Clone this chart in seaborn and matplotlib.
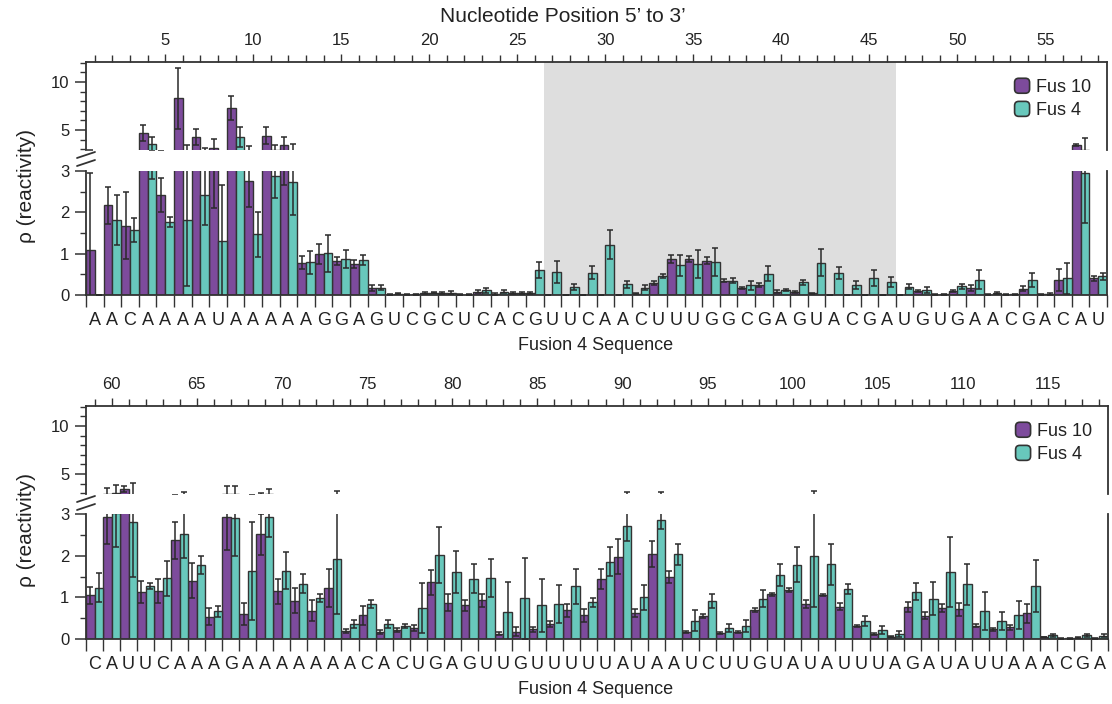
import numpy as np
import pandas as pd
import matplotlib
matplotlib.use("Agg")
import matplotlib.pyplot as plt
import seaborn as sns
from matplotlib.patches import Patch, FancyBboxPatch
from matplotlib.legend_handler import HandlerPatch
from matplotlib.lines import Line2D

# ---------------- data ----------------
pos_top = list(range(1, 59))
seq_top = list("AACAAAAUAAAAAGGAGUCGCUCACGUUCAACUUUGGCGAGUACGAUGUGAACGACAU")
fus10_top = [1.08, 2.17, 1.68, 4.70, 2.43, 8.30, 4.27, 3.10, 7.30, 2.75,
             4.40, 3.45, 0.78, 0.99, 0.83, 0.75, 0.17, 0.01, 0.01, 0.05,
             0.05, 0.01, 0.08, 0.03, 0.05, 0.05, 0.00, 0.00, 0.00, 0.00,
             0.00, 0.03, 0.29, 0.87, 0.87, 0.83, 0.35, 0.17, 0.24, 0.08,
             0.08, 0.04, 0.00, 0.00, 0.00, 0.00, 0.00, 0.10, 0.01, 0.10,
             0.17, 0.01, 0.01, 0.15, 0.02, 0.37, 3.45, 0.41]
err10_top = [1.87, 0.45, 0.82, 0.85, 0.41, 3.20, 0.85, 1.00, 1.25, 0.62,
             0.90, 0.80, 0.16, 0.25, 0.10, 0.10, 0.07, 0.01, 0.01, 0.02,
             0.03, 0.01, 0.04, 0.02, 0.02, 0.03, 0.00, 0.00, 0.00, 0.00,
             0.00, 0.01, 0.06, 0.10, 0.08, 0.08, 0.03, 0.03, 0.04, 0.03,
             0.02, 0.01, 0.00, 0.00, 0.00, 0.00, 0.00, 0.03, 0.01, 0.03,
             0.08, 0.01, 0.01, 0.06, 0.01, 0.27, 0.10, 0.06]
fus4_top = [0.00, 1.82, 1.57, 3.55, 1.77, 1.82, 2.43, 1.30, 4.25, 1.47,
            2.88, 2.74, 0.79, 1.01, 0.88, 0.84, 0.17, 0.03, 0.02, 0.06,
            0.06, 0.01, 0.12, 0.08, 0.05, 0.60, 0.56, 0.20, 0.54, 1.22,
            0.26, 0.17, 0.46, 0.72, 0.75, 0.80, 0.35, 0.23, 0.52, 0.12,
            0.31, 0.78, 0.53, 0.24, 0.41, 0.31, 0.20, 0.12, 0.02, 0.21,
            0.37, 0.05, 0.02, 0.36, 0.03, 0.40, 2.95, 0.45]
err4_top = [0.00, 0.61, 0.29, 0.75, 0.12, 1.60, 0.74, 1.35, 1.05, 0.55,
            0.53, 0.80, 0.27, 0.45, 0.22, 0.12, 0.06, 0.01, 0.01, 0.02,
            0.03, 0.01, 0.06, 0.04, 0.03, 0.20, 0.27, 0.07, 0.15, 0.35,
            0.08, 0.06, 0.04, 0.25, 0.33, 0.34, 0.06, 0.10, 0.18, 0.03,
            0.06, 0.33, 0.14, 0.10, 0.20, 0.12, 0.06, 0.07, 0.01, 0.06,
            0.23, 0.02, 0.01, 0.17, 0.02, 0.38, 1.20, 0.08]
shade_top = (26.5, 46.5)

pos_bot = list(range(59, 119))
seq_bot = list("CAUUCAAAGA" "AAAAAACACU" "GAGUUGUUUU" "UAUAAUCUUG" "UAUAUUUAGA" "UAUUAAACGA")
fus10_bot = [1.05, 2.92, 3.44, 1.13, 1.15, 2.37, 1.40, 0.54, 2.93, 0.60,
             2.51, 1.15, 0.92, 0.68, 1.23, 0.20, 0.57, 0.17, 0.22, 0.26,
             1.36, 0.87, 0.81, 0.93, 0.13, 0.18, 0.23, 0.36, 0.69, 0.57,
             1.44, 1.98, 0.62, 2.04, 1.49, 0.17, 0.56, 0.15, 0.17, 0.69,
             1.07, 1.18, 0.84, 1.06, 0.78, 0.32, 0.12, 0.06, 0.78, 0.56,
             0.75, 0.71, 0.32, 0.23, 0.28, 0.62, 0.05, 0.01, 0.03, 0.02]
err10_bot = [0.20, 0.65, 0.30, 0.27, 0.28, 0.45, 0.42, 0.20, 0.80, 0.27,
             0.50, 0.30, 0.30, 0.25, 0.45, 0.05, 0.23, 0.05, 0.05, 0.07,
             0.30, 0.20, 0.13, 0.15, 0.04, 0.10, 0.05, 0.07, 0.16, 0.15,
             0.25, 0.42, 0.10, 0.32, 0.15, 0.02, 0.05, 0.02, 0.02, 0.05,
             0.03, 0.05, 0.10, 0.03, 0.08, 0.02, 0.02, 0.01, 0.12, 0.08,
             0.10, 0.15, 0.04, 0.04, 0.06, 0.23, 0.01, 0.01, 0.01, 0.01]
fus4_bot = [1.23, 3.02, 2.80, 1.27, 1.46, 2.53, 1.78, 0.67, 2.90, 1.63,
            2.92, 1.64, 1.33, 0.98, 1.91, 0.36, 0.84, 0.36, 0.31, 0.75,
            2.01, 1.61, 1.45, 1.46, 0.64, 0.98, 0.81, 0.84, 1.27, 0.88,
            1.86, 2.72, 1.00, 2.86, 2.03, 0.44, 0.91, 0.27, 0.31, 0.97,
            1.54, 1.78, 1.99, 1.79, 1.19, 0.44, 0.22, 0.12, 1.14, 0.97,
            1.61, 1.31, 0.67, 0.44, 0.58, 1.27, 0.09, 0.02, 0.09, 0.08]
err4_bot = [0.35, 0.80, 1.30, 0.07, 0.42, 0.58, 0.22, 0.13, 0.90, 1.17,
            0.47, 0.45, 0.22, 0.10, 1.30, 0.10, 0.10, 0.10, 0.05, 0.60,
            0.67, 0.50, 0.34, 0.46, 0.72, 0.97, 0.63, 0.46, 0.42, 0.10,
            0.35, 0.36, 0.30, 0.22, 0.25, 0.25, 0.17, 0.10, 0.14, 0.20,
            0.27, 0.42, 1.22, 0.50, 0.12, 0.12, 0.10, 0.07, 0.20, 0.40,
            0.83, 0.50, 0.45, 0.22, 0.33, 0.63, 0.03, 0.01, 0.03, 0.04]

samples = ["Fus 10", "Fus 4"]
colors = {"Fus 10": "#7D4B9C", "Fus 4": "#68C8BC"}
EDGE = "#333333"
TXT = "#222222"
SHADE = "#DEDEDE"

# ---------------- style ----------------
sns.set_theme(style="ticks")
plt.rcParams["font.family"] = ["Liberation Sans", "DejaVu Sans"]
plt.rcParams["axes.edgecolor"] = EDGE
plt.rcParams["axes.linewidth"] = 1.3
plt.rcParams["xtick.color"] = EDGE
plt.rcParams["ytick.color"] = EDGE
plt.rcParams["xtick.labelcolor"] = TXT
plt.rcParams["ytick.labelcolor"] = TXT

W, H = 1112, 704
fig = plt.figure(figsize=(W / 100, H / 100), dpi=100)


def add_ax(l, t, r, b):
    return fig.add_axes([l / W, 1 - b / H, (r - l) / W, (b - t) / H])


class RoundHandler(HandlerPatch):
    def create_artists(self, legend, orig_handle, xdescent, ydescent,
                       width, height, fontsize, trans):
        s = min(width, height)
        p = FancyBboxPatch((-xdescent + (width - s) / 2, -ydescent + (height - s) / 2),
                           s, s, boxstyle=f"round,pad=0,rounding_size={s * 0.28}",
                           facecolor=orig_handle.get_facecolor(),
                           edgecolor=EDGE, linewidth=1.2, transform=trans)
        return [p]


def panel(box_up, box_lo, pos, seq, v10, e10, v4, e4, shade=None):
    ax_up = add_ax(*box_up)
    ax_lo = add_ax(*box_lo)
    ax_lo.set_zorder(1)
    ax_up.set_zorder(2)
    ax_up.set_facecolor("none")
    n = len(pos)
    df = pd.DataFrame({"pos": pos + pos, "val": v10 + v4,
                       "sample": [samples[0]] * n + [samples[1]] * n})
    xlim = (pos[0] - 0.5, pos[-1] + 0.5)
    for ax in (ax_up, ax_lo):
        sns.barplot(data=df, x="pos", y="val", hue="sample", hue_order=samples,
                    palette=colors, native_scale=True, width=1.0, saturation=1,
                    errorbar=None, edgecolor=EDGE, linewidth=1.0, legend=False,
                    ax=ax, zorder=2)
        ax.errorbar(np.array(pos) - 0.25, v10, yerr=e10, fmt="none", ecolor="#2a2a2a",
                    elinewidth=1.1, capsize=2, capthick=1.1, zorder=3)
        ax.errorbar(np.array(pos) + 0.25, v4, yerr=e4, fmt="none", ecolor="#2a2a2a",
                    elinewidth=1.1, capsize=2, capthick=1.1, zorder=3)
        ax.set_xlim(xlim)
        ax.set_xlabel("")
        ax.set_ylabel("")
        ax.spines["right"].set_visible(True)
        ax.tick_params(axis="y", which="major", length=8, width=1.1, pad=4, labelsize=12)
        ax.tick_params(axis="y", which="minor", length=4.5, width=1.0)

    # upper axes
    ax_up.set_ylim(2.92, 12.08)
    ax_up.set_yticks([5, 10])
    ax_up.set_yticks(range(3, 13), minor=True)
    ax_up.spines["bottom"].set_visible(False)
    ax_up.spines["top"].set_visible(True)
    ax_up.xaxis.tick_top()
    ax_up.set_xticks([p for p in pos if p % 5 == 0])
    ax_up.set_xticks(pos, minor=True)
    ax_up.tick_params(axis="x", which="major", top=True, bottom=False, labeltop=True,
                      labelbottom=False, length=6, width=1.0, pad=4, labelsize=12)
    ax_up.tick_params(axis="x", which="minor", top=True, bottom=False, length=5, width=1.0)

    # lower axes
    ax_lo.set_ylim(0, 3)
    ax_lo.set_yticks([0, 1, 2, 3])
    ax_lo.set_yticks(np.arange(0, 3.01, 0.5), minor=True)
    ax_lo.spines["top"].set_visible(False)
    ax_lo.set_xticks(np.arange(xlim[0], xlim[1] + 0.01, 1.0))
    ax_lo.set_xticklabels([])
    ax_lo.set_xticks(pos, minor=True)
    ax_lo.set_xticklabels(seq, minor=True)
    ax_lo.tick_params(axis="x", which="major", length=8.6, width=1.0, labelbottom=False)
    ax_lo.tick_params(axis="x", which="minor", length=0, pad=12, labelsize=13)

    if shade is not None:
        p_up = ax_up.get_position()
        p_lo = ax_lo.get_position()
        ymax = (p_up.y1 - p_lo.y0) / (p_lo.y1 - p_lo.y0)
        ax_lo.axvspan(shade[0], shade[1], ymin=0, ymax=ymax, color=SHADE,
                      lw=0, zorder=0.5, clip_on=False)

    handles = [Patch(facecolor=colors[s], edgecolor=EDGE, label=s) for s in samples]
    ax_up.legend(handles=handles, loc="upper right", frameon=False, fontsize=13,
                 handlelength=0.9, handleheight=0.9, handletextpad=0.3,
                 labelspacing=0.3, borderaxespad=0.6, borderpad=0.3,
                 handler_map={Patch: RoundHandler()}, labelcolor=TXT)

    # break marks on the left spine
    x0 = ax_lo.get_position().x0 * W
    gap_top = (1 - ax_up.get_position().y0) * H
    for dy in (5, 13):
        yc = gap_top + dy
        fig.add_artist(Line2D([(x0 - 9) / W, (x0 + 9) / W],
                              [1 - (yc + 3) / H, 1 - (yc - 3) / H],
                              transform=fig.transFigure, color=EDGE, lw=1.3))
    return ax_up, ax_lo


panel((86, 62, 1107, 150), (86, 171, 1107, 295), pos_top, seq_top,
      fus10_top, err10_top, fus4_top, err4_top, shade=shade_top)
panel((86, 406, 1108, 494), (86, 514, 1108, 639), pos_bot, seq_bot,
      fus10_bot, err10_bot, fus4_bot, err4_bot)

fig.text(563 / W, 1 - 16 / H, "Nucleotide Position 5\u2019 to 3\u2019", ha="center",
         va="center", fontsize=15, color=TXT)
for yc in (346, 690):
    fig.text(596 / W, 1 - yc / H, "Fusion 4 Sequence", ha="center", va="center",
             fontsize=13, color=TXT)
for yc in (186, 530):
    fig.text(27 / W, 1 - yc / H, "\u03c1 (reactivity)", ha="center", va="center",
             rotation=90, fontsize=15, color=TXT)

fig.savefig("out.png", dpi=100)
